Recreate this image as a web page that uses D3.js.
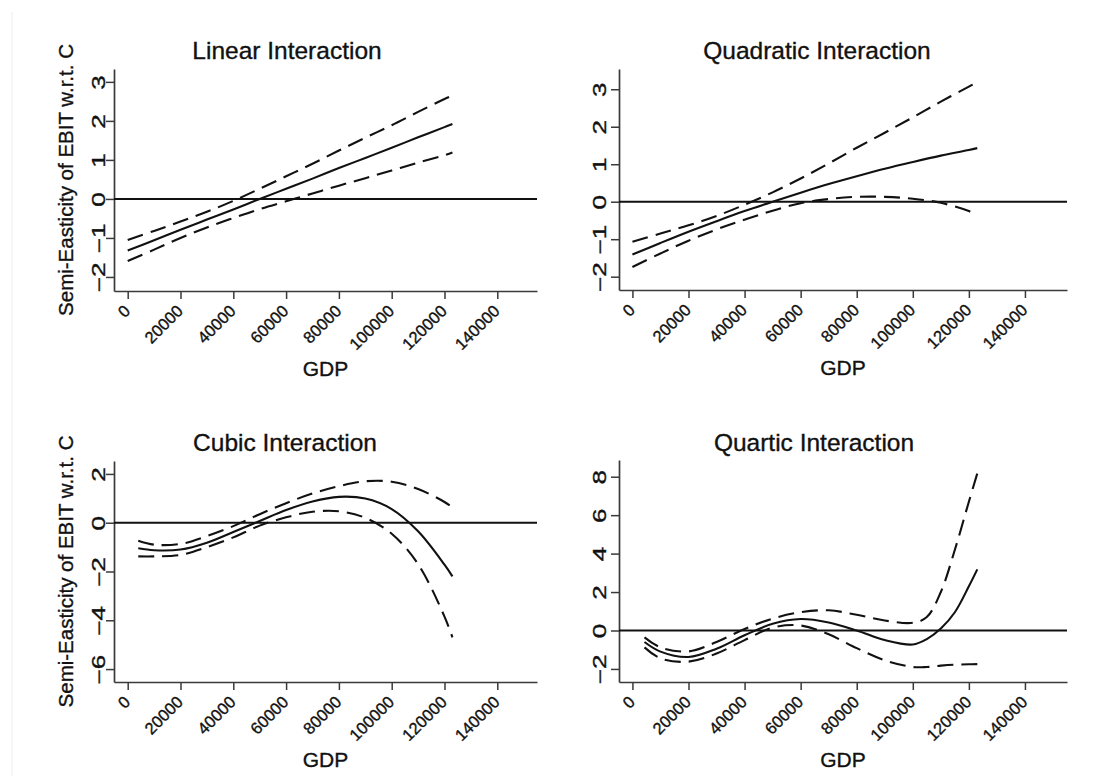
<!DOCTYPE html>
<html>
<head>
<meta charset="utf-8">
<script src="https://cdn.jsdelivr.net/npm/d3@7"></script>
<style>
  html, body { margin: 0; padding: 0; background: #fff; }
  svg { display: block; font-family: "Liberation Sans", Arial, Helvetica, sans-serif; }
  svg text { stroke: #111; stroke-width: 0.35px; }
</style>
</head>
<body>
<svg id="chart" width="1094" height="776"></svg>
<script>
// ---------------- data ----------------
const xTickValues = [0, 20000, 40000, 60000, 80000, 100000, 120000, 140000];

const gdpLinear = [0, 10000, 20000, 30000, 40000, 50000, 60000, 70000, 80000, 90000, 100000, 110000, 120000, 123000];
const linearFit   = [-1.32, -1.06, -0.79, -0.53, -0.27, 0.00, 0.26, 0.52, 0.79, 1.05, 1.31, 1.58, 1.84, 1.92];
const linearUpper = [-1.05, -0.82, -0.58, -0.33, -0.05, 0.26, 0.58, 0.90, 1.24, 1.57, 1.89, 2.23, 2.56, 2.65];
const linearLower = [-1.59, -1.30, -1.00, -0.73, -0.49, -0.26, -0.06, 0.14, 0.34, 0.53, 0.73, 0.93, 1.12, 1.19];

const gdpQuadratic = [0, 10000, 20000, 30000, 40000, 50000, 60000, 70000, 80000, 90000, 100000, 110000, 120000, 123000];
const quadraticFit   = [-1.41, -1.10, -0.80, -0.52, -0.25, 0.00, 0.24, 0.47, 0.68, 0.88, 1.06, 1.23, 1.38, 1.43];
const quadraticUpper = [-1.07, -0.85, -0.63, -0.38, -0.08, 0.25, 0.62, 1.02, 1.44, 1.84, 2.25, 2.67, 3.07, 3.19];
const quadraticLower = [-1.74, -1.38, -1.04, -0.74, -0.48, -0.24, -0.04, 0.07, 0.13, 0.13, 0.08, -0.03, -0.25, -0.36];

const gdpCubic = [4000, 10000, 20000, 30000, 40000, 50000, 60000, 70000, 80000, 90000, 100000, 110000, 120000, 123000];
const cubicFit   = [-1.05, -1.13, -1.10, -0.82, -0.38, 0.07, 0.52, 0.87, 1.06, 0.99, 0.56, -0.35, -1.72, -2.20];
const cubicUpper = [-0.74, -0.90, -0.87, -0.55, -0.14, 0.35, 0.80, 1.20, 1.50, 1.70, 1.68, 1.38, 0.85, 0.63];
const cubicLower = [-1.38, -1.38, -1.32, -1.00, -0.60, -0.12, 0.22, 0.45, 0.47, 0.20, -0.45, -1.70, -3.85, -4.70];

const gdpQuartic = [4300, 10000, 20000, 30000, 40000, 50000, 60000, 70000, 80000, 90000, 100000, 105000, 110000, 115000, 120000, 123000];
const quarticFit   = [-0.60, -1.10, -1.38, -0.95, -0.25, 0.35, 0.60, 0.42, 0.00, -0.50, -0.73, -0.45, 0.10, 0.95, 2.30, 3.18];
const quarticUpper = [-0.36, -0.88, -1.09, -0.60, 0.08, 0.62, 0.95, 1.05, 0.82, 0.52, 0.40, 0.70, 2.00, 4.20, 6.70, 8.17];
const quarticLower = [-0.88, -1.45, -1.62, -1.20, -0.50, 0.15, 0.26, -0.20, -0.92, -1.55, -1.90, -1.90, -1.83, -1.78, -1.76, -1.75];

const titles = ["Linear Interaction", "Quadratic Interaction", "Cubic Interaction", "Quartic Interaction"];
const yTicks1 = [-2, -1, 0, 1, 2, 3];
const yTicks2 = [-2, -1, 0, 1, 2, 3];
const yTicks3 = [-6, -4, -2, 0, 2];
const yTicks4 = [-2, 0, 2, 4, 6, 8];
const xLabel = "GDP";
const yLabel = "Semi-Easticity of EBIT w.r.t. C";

// ---------------- layout ----------------
const panels = [
  { title: titles[0], gdp: gdpLinear, fit: linearFit, up: linearUpper, lo: linearLower, yTicks: yTicks1,
    xd: [-5190, 155040], xr: [114, 537], yd: [-2.36, 3.33], yr: [291, 69], titleX: 287, titleY: 59, labOff: 9, yTitle: true },
  { title: titles[1], gdp: gdpQuadratic, fit: quadraticFit, up: quadraticUpper, lo: quadraticLower, yTicks: yTicks2,
    xd: [-4790, 155000], xr: [619, 1067], yd: [-2.355, 3.54], yr: [290, 69], titleX: 817, titleY: 59, labOff: 13, yTitle: false },
  { title: titles[2], gdp: gdpCubic, fit: cubicFit, up: cubicUpper, lo: cubicLower, yTicks: yTicks3,
    xd: [-5190, 155040], xr: [114, 537], yd: [-6.53, 2.53], yr: [682, 461], titleX: 285, titleY: 451, labOff: 9, yTitle: true },
  { title: titles[3], gdp: gdpQuartic, fit: quarticFit, up: quarticUpper, lo: quarticLower, yTicks: yTicks4,
    xd: [-4790, 155000], xr: [619, 1067], yd: [-2.68, 8.87], yr: [682, 460], titleX: 814, titleY: 451, labOff: 13, yTitle: false }
];

const svg = d3.select("#chart");
const ink = "#111111";
const axisInk = "#3a3a3a";
const fontFam = "'Liberation Sans', Arial, Helvetica, sans-serif";

// faint scan border seen in the reference
svg.append("line").attr("x1", 12).attr("x2", 12).attr("y1", 12).attr("y2", 776)
  .attr("stroke", "#eeeeee").attr("stroke-width", 1);

panels.forEach(p => {
  const x = d3.scaleLinear().domain(p.xd).range(p.xr);
  const y = d3.scaleLinear().domain(p.yd).range(p.yr);
  const g = svg.append("g");

  // x axis
  const xa = g.append("g")
    .attr("transform", `translate(0,${p.yr[0]})`)
    .call(d3.axisBottom(x).tickValues(xTickValues).tickSize(8).tickSizeOuter(0).tickFormat(d3.format("d")));
  xa.attr("font-size", 16.5).attr("font-family", fontFam);
  xa.select(".domain").attr("stroke", axisInk).attr("stroke-width", 1.7);
  xa.selectAll(".tick line").attr("stroke", axisInk).attr("stroke-width", 1.5);
  xa.selectAll(".tick text")
    .attr("x", 0).attr("y", 0).attr("dy", null)
    .attr("text-anchor", "end")
    .attr("transform", "translate(3,21) rotate(-45)")
    .attr("fill", ink);

  // y axis (labels are drawn wide along the text direction, as in the reference)
  const ya = g.append("g")
    .attr("transform", `translate(${p.xr[0]},0)`)
    .call(d3.axisLeft(y).tickValues(p.yTicks).tickSize(8).tickSizeOuter(0).tickFormat(d3.format("d")));
  ya.attr("font-size", 18).attr("font-family", fontFam);
  ya.select(".domain").attr("stroke", axisInk).attr("stroke-width", 1.7);
  ya.selectAll(".tick line").attr("stroke", axisInk).attr("stroke-width", 1.5);
  ya.selectAll(".tick text")
    .attr("x", 0).attr("y", 0).attr("dy", null)
    .attr("text-anchor", "middle")
    .attr("transform", `translate(${-p.labOff},0) rotate(-90) scale(1.45,1)`)
    .attr("fill", ink);

  // zero reference line
  g.append("line")
    .attr("x1", p.xr[0]).attr("x2", p.xr[1])
    .attr("y1", y(0)).attr("y2", y(0))
    .attr("stroke", ink).attr("stroke-width", 2);

  const line = d3.line().x(d => x(d[0])).y(d => y(d[1])).curve(d3.curveCatmullRom.alpha(0.5));
  const series = [
    { v: p.fit, dash: null },
    { v: p.up, dash: "16,8" },
    { v: p.lo, dash: "16,8" }
  ];
  series.forEach(s => {
    g.append("path")
      .datum(p.gdp.map((gv, i) => [gv, s.v[i]]))
      .attr("d", line)
      .attr("fill", "none")
      .attr("stroke", ink)
      .attr("stroke-width", 2.1)
      .attr("stroke-dasharray", s.dash);
  });

  // title
  g.append("text")
    .attr("x", p.titleX).attr("y", p.titleY)
    .attr("text-anchor", "middle")
    .attr("font-size", 24.5).attr("fill", ink)
    .text(p.title);

  // x label
  g.append("text")
    .attr("x", (p.xr[0] + p.xr[1]) / 2).attr("y", p.yr[0] + 85)
    .attr("text-anchor", "middle")
    .attr("font-size", 21).attr("fill", ink)
    .text(xLabel);

  // y label
  if (p.yTitle) {
    const cy = (p.yr[0] + p.yr[1]) / 2;
    g.append("text")
      .attr("transform", `translate(73,${cy}) rotate(-90)`)
      .attr("text-anchor", "middle")
      .attr("font-size", 20.5).attr("fill", ink)
      .text(yLabel);
  }
});
</script>
</body>
</html>
